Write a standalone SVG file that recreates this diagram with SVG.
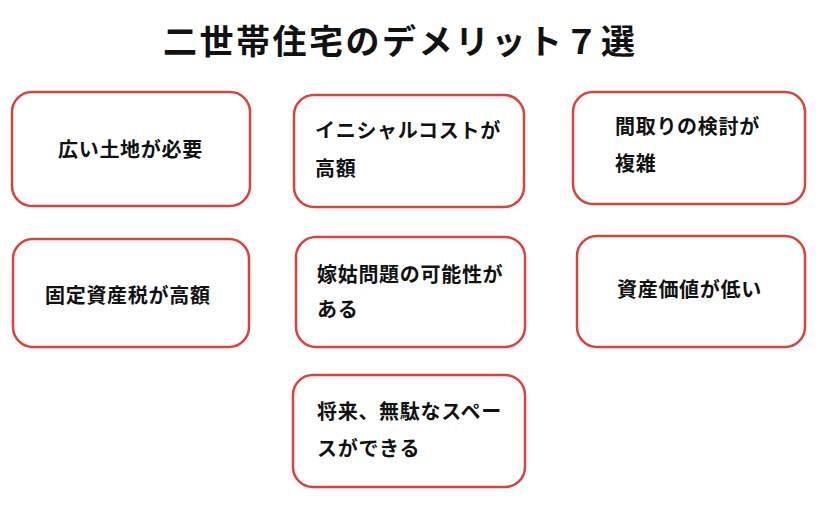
<svg xmlns="http://www.w3.org/2000/svg" width="828" height="512" viewBox="0 0 828 512">
<style>
.box{fill:#fff;stroke:#d8433b;stroke-width:2.5}
.t{font-family:"Noto Sans CJK JP","Noto Sans",sans-serif;font-size:20px;font-weight:600;letter-spacing:0.7px;fill:#111}
.title{font-family:"Noto Sans CJK JP","Noto Sans",sans-serif;font-size:34px;font-weight:700;letter-spacing:2.5px;fill:#111}
</style>
<rect width="828" height="512" fill="#fff"/>
<text class="title" x="163" y="54">二世帯住宅のデメリット７選</text>
<g id="n1"><rect class="box" x="12" y="92" width="238" height="114" rx="20"/><text class="t" x="58" y="157">広い土地が必要</text></g>
<g id="n2"><rect class="box" x="294" y="95" width="230" height="112" rx="20"/><text class="t" x="315" y="138">イニシャルコストが</text><text class="t" x="315" y="176">高額</text></g>
<g id="n3"><rect class="box" x="573" y="92" width="232" height="112" rx="20"/><text class="t" x="615" y="134">間取りの検討が</text><text class="t" x="615" y="171">複雑</text></g>
<g id="n4"><rect class="box" x="13" y="239" width="236" height="108" rx="20"/><text class="t" x="45" y="303">固定資産税が高額</text></g>
<g id="n5"><rect class="box" x="296" y="237" width="229" height="110" rx="20"/><text class="t" x="317" y="282">嫁姑問題の可能性が</text><text class="t" x="317" y="317">ある</text></g>
<g id="n6"><rect class="box" x="577" y="236" width="228" height="111" rx="20"/><text class="t" x="617" y="297">資産価値が低い</text></g>
<g id="n7"><rect class="box" x="293" y="375" width="232" height="112" rx="20"/><text class="t" x="317" y="419">将来、無駄なスペー</text><text class="t" x="317" y="456">スができる</text></g>
<g id="connectors"/>
</svg>
